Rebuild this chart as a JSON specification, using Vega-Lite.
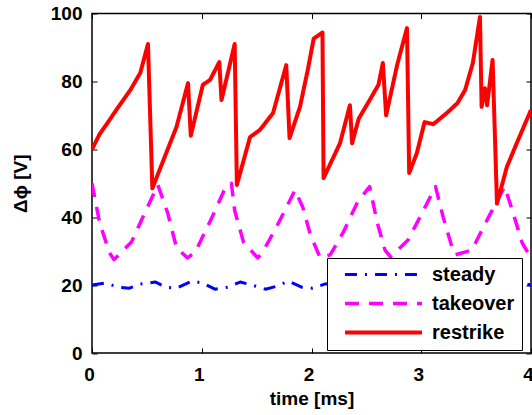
{
  "$schema": "https://vega.github.io/schema/vega-lite/v6.json",
  "width": 439,
  "height": 339.5,
  "autosize": {"type": "none"},
  "padding": {"left": 92, "top": 13.5, "right": 1, "bottom": 62},
  "background": "white",
  "config": {
    "view": {"stroke": "black", "strokeWidth": 1.5},
    "font": "Liberation Sans",
    "axis": {
      "domain": false,
      "grid": false,
      "labelFlush": false,
      "tickColor": "black",
      "tickWidth": 1,
      "labelFont": "Liberation Sans",
      "labelFontWeight": "bold",
      "labelFontSize": 19,
      "labelColor": "black",
      "titleFont": "Liberation Sans",
      "titleFontWeight": "bold",
      "titleFontSize": 19,
      "titleColor": "black"
    }
  },
  "data": {
    "values": [
      {"series": "steady", "t": 0, "v": 20},
      {"series": "steady", "t": 0.12, "v": 20.6},
      {"series": "steady", "t": 0.24, "v": 19.4},
      {"series": "steady", "t": 0.34, "v": 19.1},
      {"series": "steady", "t": 0.44, "v": 20.3},
      {"series": "steady", "t": 0.58, "v": 20.9},
      {"series": "steady", "t": 0.67, "v": 19.4},
      {"series": "steady", "t": 0.77, "v": 19.1},
      {"series": "steady", "t": 0.91, "v": 21.2},
      {"series": "steady", "t": 1.01, "v": 20.6},
      {"series": "steady", "t": 1.12, "v": 18.8},
      {"series": "steady", "t": 1.24, "v": 19.4},
      {"series": "steady", "t": 1.35, "v": 20.9},
      {"series": "steady", "t": 1.46, "v": 20},
      {"series": "steady", "t": 1.58, "v": 18.8},
      {"series": "steady", "t": 1.69, "v": 19.7},
      {"series": "steady", "t": 1.79, "v": 21.2},
      {"series": "steady", "t": 1.91, "v": 19.4},
      {"series": "steady", "t": 2.01, "v": 19.1},
      {"series": "steady", "t": 2.12, "v": 20.3},
      {"series": "steady", "t": 2.3, "v": 20.5},
      {"series": "steady", "t": 2.5, "v": 19.2},
      {"series": "steady", "t": 2.7, "v": 20.5},
      {"series": "steady", "t": 2.9, "v": 19.5},
      {"series": "steady", "t": 3.1, "v": 20.8},
      {"series": "steady", "t": 3.3, "v": 19.3},
      {"series": "steady", "t": 3.5, "v": 20.3},
      {"series": "steady", "t": 3.7, "v": 20.8},
      {"series": "steady", "t": 3.93, "v": 20.6},
      {"series": "steady", "t": 4.0, "v": 20},
      {"series": "takeover", "t": 0, "v": 50},
      {"series": "takeover", "t": 0.07, "v": 38.3},
      {"series": "takeover", "t": 0.16, "v": 29.5},
      {"series": "takeover", "t": 0.2, "v": 27.5},
      {"series": "takeover", "t": 0.36, "v": 32.7},
      {"series": "takeover", "t": 0.48, "v": 41.2},
      {"series": "takeover", "t": 0.6, "v": 49.5},
      {"series": "takeover", "t": 0.69, "v": 41.2},
      {"series": "takeover", "t": 0.77, "v": 31},
      {"series": "takeover", "t": 0.87, "v": 28},
      {"series": "takeover", "t": 0.94, "v": 29.7},
      {"series": "takeover", "t": 1.08, "v": 39},
      {"series": "takeover", "t": 1.22, "v": 49},
      {"series": "takeover", "t": 1.27, "v": 50},
      {"series": "takeover", "t": 1.3, "v": 42},
      {"series": "takeover", "t": 1.38, "v": 32.7},
      {"series": "takeover", "t": 1.51, "v": 28},
      {"series": "takeover", "t": 1.56, "v": 30},
      {"series": "takeover", "t": 1.69, "v": 37.7},
      {"series": "takeover", "t": 1.82, "v": 46},
      {"series": "takeover", "t": 1.85, "v": 48},
      {"series": "takeover", "t": 1.92, "v": 43},
      {"series": "takeover", "t": 1.99, "v": 34.8},
      {"series": "takeover", "t": 2.08, "v": 28},
      {"series": "takeover", "t": 2.17, "v": 28.9},
      {"series": "takeover", "t": 2.29, "v": 35.6},
      {"series": "takeover", "t": 2.42, "v": 44.5},
      {"series": "takeover", "t": 2.53, "v": 49},
      {"series": "takeover", "t": 2.6, "v": 38.3},
      {"series": "takeover", "t": 2.67, "v": 30.3},
      {"series": "takeover", "t": 2.72, "v": 28.3},
      {"series": "takeover", "t": 2.88, "v": 33.3},
      {"series": "takeover", "t": 3.02, "v": 42},
      {"series": "takeover", "t": 3.13, "v": 49},
      {"series": "takeover", "t": 3.2, "v": 40},
      {"series": "takeover", "t": 3.28, "v": 31.2},
      {"series": "takeover", "t": 3.31, "v": 28.9},
      {"series": "takeover", "t": 3.46, "v": 30.3},
      {"series": "takeover", "t": 3.61, "v": 39.8},
      {"series": "takeover", "t": 3.76, "v": 49},
      {"series": "takeover", "t": 3.83, "v": 42},
      {"series": "takeover", "t": 3.92, "v": 32.4},
      {"series": "takeover", "t": 4.0, "v": 28},
      {"series": "restrike", "t": 0, "v": 60},
      {"series": "restrike", "t": 0.07, "v": 64.5},
      {"series": "restrike", "t": 0.14, "v": 67.7},
      {"series": "restrike", "t": 0.23, "v": 72},
      {"series": "restrike", "t": 0.35, "v": 77.5},
      {"series": "restrike", "t": 0.44, "v": 82.5},
      {"series": "restrike", "t": 0.51, "v": 91},
      {"series": "restrike", "t": 0.55, "v": 48.5},
      {"series": "restrike", "t": 0.77, "v": 66.6},
      {"series": "restrike", "t": 0.875, "v": 79.5},
      {"series": "restrike", "t": 0.9, "v": 64},
      {"series": "restrike", "t": 1.01, "v": 79},
      {"series": "restrike", "t": 1.075, "v": 80.4},
      {"series": "restrike", "t": 1.16, "v": 85.7},
      {"series": "restrike", "t": 1.18, "v": 74.5},
      {"series": "restrike", "t": 1.3, "v": 91},
      {"series": "restrike", "t": 1.32, "v": 49.5},
      {"series": "restrike", "t": 1.44, "v": 63.6},
      {"series": "restrike", "t": 1.53, "v": 65.7},
      {"series": "restrike", "t": 1.65, "v": 70.7},
      {"series": "restrike", "t": 1.77, "v": 84.8},
      {"series": "restrike", "t": 1.8, "v": 63.3},
      {"series": "restrike", "t": 1.895, "v": 72.5},
      {"series": "restrike", "t": 1.97, "v": 84},
      {"series": "restrike", "t": 2.02, "v": 92.6},
      {"series": "restrike", "t": 2.1, "v": 94.4},
      {"series": "restrike", "t": 2.11, "v": 51.5},
      {"series": "restrike", "t": 2.26, "v": 61.8},
      {"series": "restrike", "t": 2.35, "v": 73},
      {"series": "restrike", "t": 2.37, "v": 61.8},
      {"series": "restrike", "t": 2.43, "v": 69},
      {"series": "restrike", "t": 2.53, "v": 74.5},
      {"series": "restrike", "t": 2.61, "v": 79},
      {"series": "restrike", "t": 2.65, "v": 85.4},
      {"series": "restrike", "t": 2.68, "v": 70},
      {"series": "restrike", "t": 2.78, "v": 84.8},
      {"series": "restrike", "t": 2.87, "v": 95.7},
      {"series": "restrike", "t": 2.89, "v": 53},
      {"series": "restrike", "t": 2.96, "v": 58.9},
      {"series": "restrike", "t": 3.03, "v": 68},
      {"series": "restrike", "t": 3.11, "v": 67.4},
      {"series": "restrike", "t": 3.23, "v": 70.6},
      {"series": "restrike", "t": 3.33, "v": 73.6},
      {"series": "restrike", "t": 3.4, "v": 77.5},
      {"series": "restrike", "t": 3.47, "v": 85.4},
      {"series": "restrike", "t": 3.535, "v": 99},
      {"series": "restrike", "t": 3.55, "v": 72.5},
      {"series": "restrike", "t": 3.58, "v": 78},
      {"series": "restrike", "t": 3.6, "v": 73},
      {"series": "restrike", "t": 3.65, "v": 86.3},
      {"series": "restrike", "t": 3.69, "v": 44},
      {"series": "restrike", "t": 3.78, "v": 54.8},
      {"series": "restrike", "t": 3.87, "v": 61.8},
      {"series": "restrike", "t": 4.0, "v": 71.6}
    ]
  },
  "layer": [
    {
      "mark": {"type": "line", "clip": true, "strokeCap": "butt", "strokeJoin": "round"},
      "encoding": {
        "x": {
          "field": "t", "type": "quantitative",
          "scale": {"domain": [0, 4], "nice": false, "zero": false},
          "axis": {"orient": "bottom", "values": [0, 1, 2, 3, 4], "format": "d", "tickSize": -5, "labelPadding": 17, "labelOffset": -3, "title": "time [ms]", "titlePadding": 5}
        },
        "y": {
          "field": "v", "type": "quantitative",
          "scale": {"domain": [0, 100], "nice": false},
          "axis": {"orient": "left", "values": [0, 20, 40, 60, 80, 100], "tickSize": -5, "labelPadding": 15, "title": "Δϕ [V]", "titlePadding": 20}
        },
        "color": {
          "field": "series", "type": "nominal",
          "scale": {"domain": ["steady", "takeover", "restrike"], "range": ["#0000ff", "#ff00ff", "#ff0000"]},
          "legend": {"title": null, "orient": "none", "legendX": 235, "legendY": 244.5, "direction": "vertical", "strokeColor": "black", "fillColor": "white", "padding": 7, "symbolType": "stroke", "symbolSize": 5929, "symbolStrokeWidth": 4, "labelFontSize": 20, "labelFont": "Liberation Sans", "labelFontWeight": "bold", "labelColor": "black", "clipHeight": 19, "rowPadding": 8, "labelOffset": 8, "symbolOffset": 9}
        },
        "strokeDash": {
          "field": "series", "type": "nominal",
          "scale": {"domain": ["steady", "takeover", "restrike"], "range": [[12, 8, 2, 8], [14, 10], [1, 0]]},
          "legend": {"title": null, "orient": "none", "legendX": 235, "legendY": 244.5, "direction": "vertical", "strokeColor": "black", "fillColor": "white", "padding": 7, "symbolType": "stroke", "symbolSize": 5929, "symbolStrokeWidth": 4, "labelFontSize": 20, "labelFont": "Liberation Sans", "labelFontWeight": "bold", "labelColor": "black", "clipHeight": 19, "rowPadding": 8, "labelOffset": 8, "symbolOffset": 9}
        },
        "strokeWidth": {
          "field": "series", "type": "nominal",
          "scale": {"domain": ["steady", "takeover", "restrike"], "range": [3, 4, 4.5]},
          "legend": null
        }
      }
    },
    {
      "mark": {"type": "line", "opacity": 0},
      "encoding": {
        "x": {
          "field": "t", "type": "quantitative",
          "axis": {"orient": "top", "values": [0, 1, 2, 3, 4], "tickSize": -5, "labels": false, "title": null}
        },
        "y": {
          "field": "v", "type": "quantitative",
          "axis": {"orient": "right", "values": [0, 20, 40, 60, 80, 100], "tickSize": -5, "labels": false, "title": null}
        },
        "detail": {"field": "series", "type": "nominal"}
      }
    }
  ],
  "resolve": {"axis": {"x": "independent", "y": "independent"}}
}
